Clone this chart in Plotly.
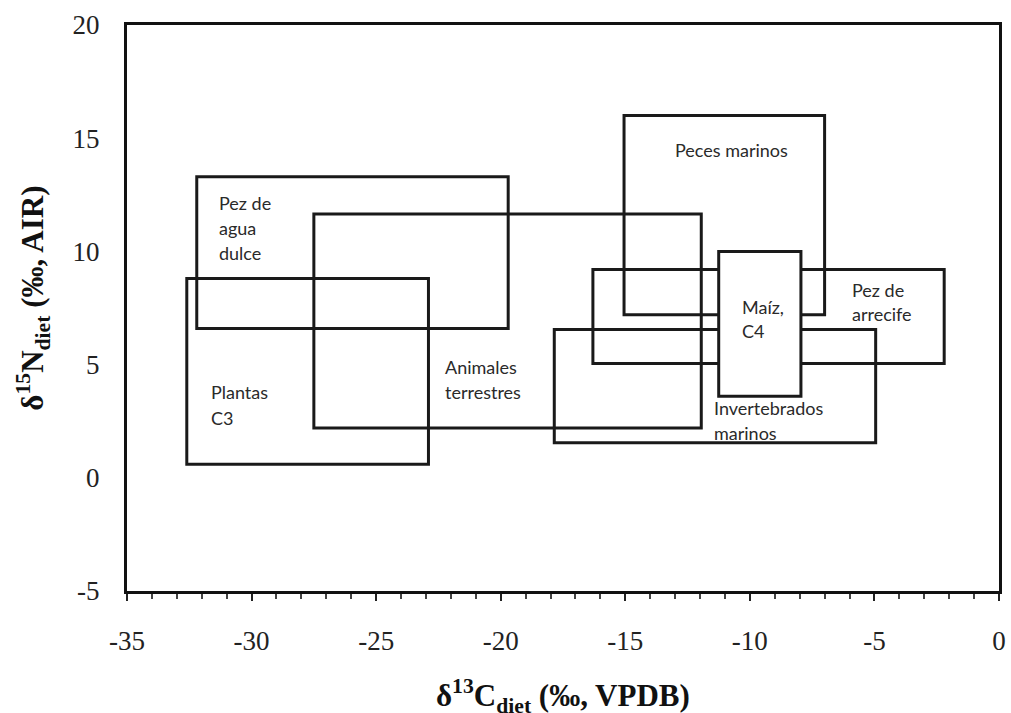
import plotly.graph_objects as go

# Source boxes (d13C range, d15N range)
groups = ["Pez de agua dulce", "Plantas C3", "Animales terrestres", "Peces marinos",
          "Pez de arrecife", "Invertebrados marinos", "Maíz, C4"]
c13_min = [-32.2, -32.6, -27.5, -15.05, -16.3, -17.85, -11.25]
c13_max = [-19.7, -22.9, -11.95, -7.0, -2.2, -4.95, -7.95]
n15_min = [6.6, 0.6, 2.2, 7.2, 5.05, 1.55, 3.6]
n15_max = [13.3, 8.8, 11.65, 16.0, 9.2, 6.55, 10.0]

# Box labels (one entry per text line, placed in data coordinates)
label_text = ["Pez de", "agua", "dulce", "Plantas", "C3", "Animales", "terrestres",
              "Peces marinos", "Maíz,", "C4", "Pez de", "arrecife", "Invertebrados", "marinos"]
label_x = [-31.4, -31.4, -31.4, -31.7, -31.7, -22.3, -22.3,
           -13.1, -10.4, -10.4, -6.0, -6.0, -11.5, -11.5]
label_y = [12.15, 11.05, 9.95, 3.8, 2.65, 4.9, 3.8,
           14.5, 7.55, 6.5, 8.3, 7.25, 3.1, 2.0]

x_ticks = [-35, -30, -25, -20, -15, -10, -5, 0]
y_ticks = [-5, 0, 5, 10, 15, 20]

fig = go.Figure()
fig.add_trace(go.Scatter(x=[None], y=[None], showlegend=False, hoverinfo="skip"))

opaque = {"Maíz, C4"}  # this box hides the lines behind it
for g, x0, x1, y0, y1 in zip(groups, c13_min, c13_max, n15_min, n15_max):
    fig.add_shape(type="rect", xref="x", yref="y", x0=x0, x1=x1, y0=y0, y1=y1,
                  line=dict(color="#1a1a1a", width=3),
                  fillcolor="white" if g in opaque else "rgba(0,0,0,0)")

for t, x, y in zip(label_text, label_x, label_y):
    fig.add_annotation(x=x, y=y, xref="x", yref="y", text=t, showarrow=False,
                       xanchor="left", yanchor="middle",
                       font=dict(family="Lato", size=18, color="#2a2a2a"))

serif = "Liberation Serif"
fig.add_annotation(x=0.5, y=-0.185, xref="paper", yref="paper",
                   text="<b>δ<sup>13</sup>C<sub>diet</sub> (‰, VPDB)</b>",
                   showarrow=False, xanchor="center", yanchor="middle",
                   font=dict(family=serif, size=31, color="#111111"))
fig.add_annotation(x=-0.108, y=0.518, xref="paper", yref="paper",
                   text="<b>δ<sup>15</sup>N<sub>diet</sub> (‰, AIR)</b>", textangle=-90,
                   showarrow=False, xanchor="center", yanchor="middle",
                   font=dict(family=serif, size=31, color="#111111"))

fig.update_layout(
    width=1011, height=713,
    margin=dict(l=127, r=5, t=25, b=122),
    paper_bgcolor="white", plot_bgcolor="white",
    showlegend=False,
    xaxis=dict(range=[-35, 0], tickvals=x_ticks, ticktext=[str(v) for v in x_ticks],
               showgrid=False, zeroline=False,
               showline=True, linecolor="#111111", linewidth=3, mirror=True,
               ticks="outside", ticklen=7, tickwidth=2, tickcolor="#222222",
               minor=dict(dtick=1, ticks="outside", ticklen=5, tickwidth=2, tickcolor="#444444"),
               ticklabelstandoff=17,
               tickfont=dict(family=serif, size=27, color="#222222")),
    yaxis=dict(range=[-5, 20], tickvals=y_ticks, ticktext=[str(v) for v in y_ticks],
               showgrid=False, zeroline=False,
               showline=True, linecolor="#111111", linewidth=3, mirror=True,
               ticks="", ticklabelstandoff=19,
               tickfont=dict(family=serif, size=27, color="#222222")),
)

fig.write_html("out.html")
